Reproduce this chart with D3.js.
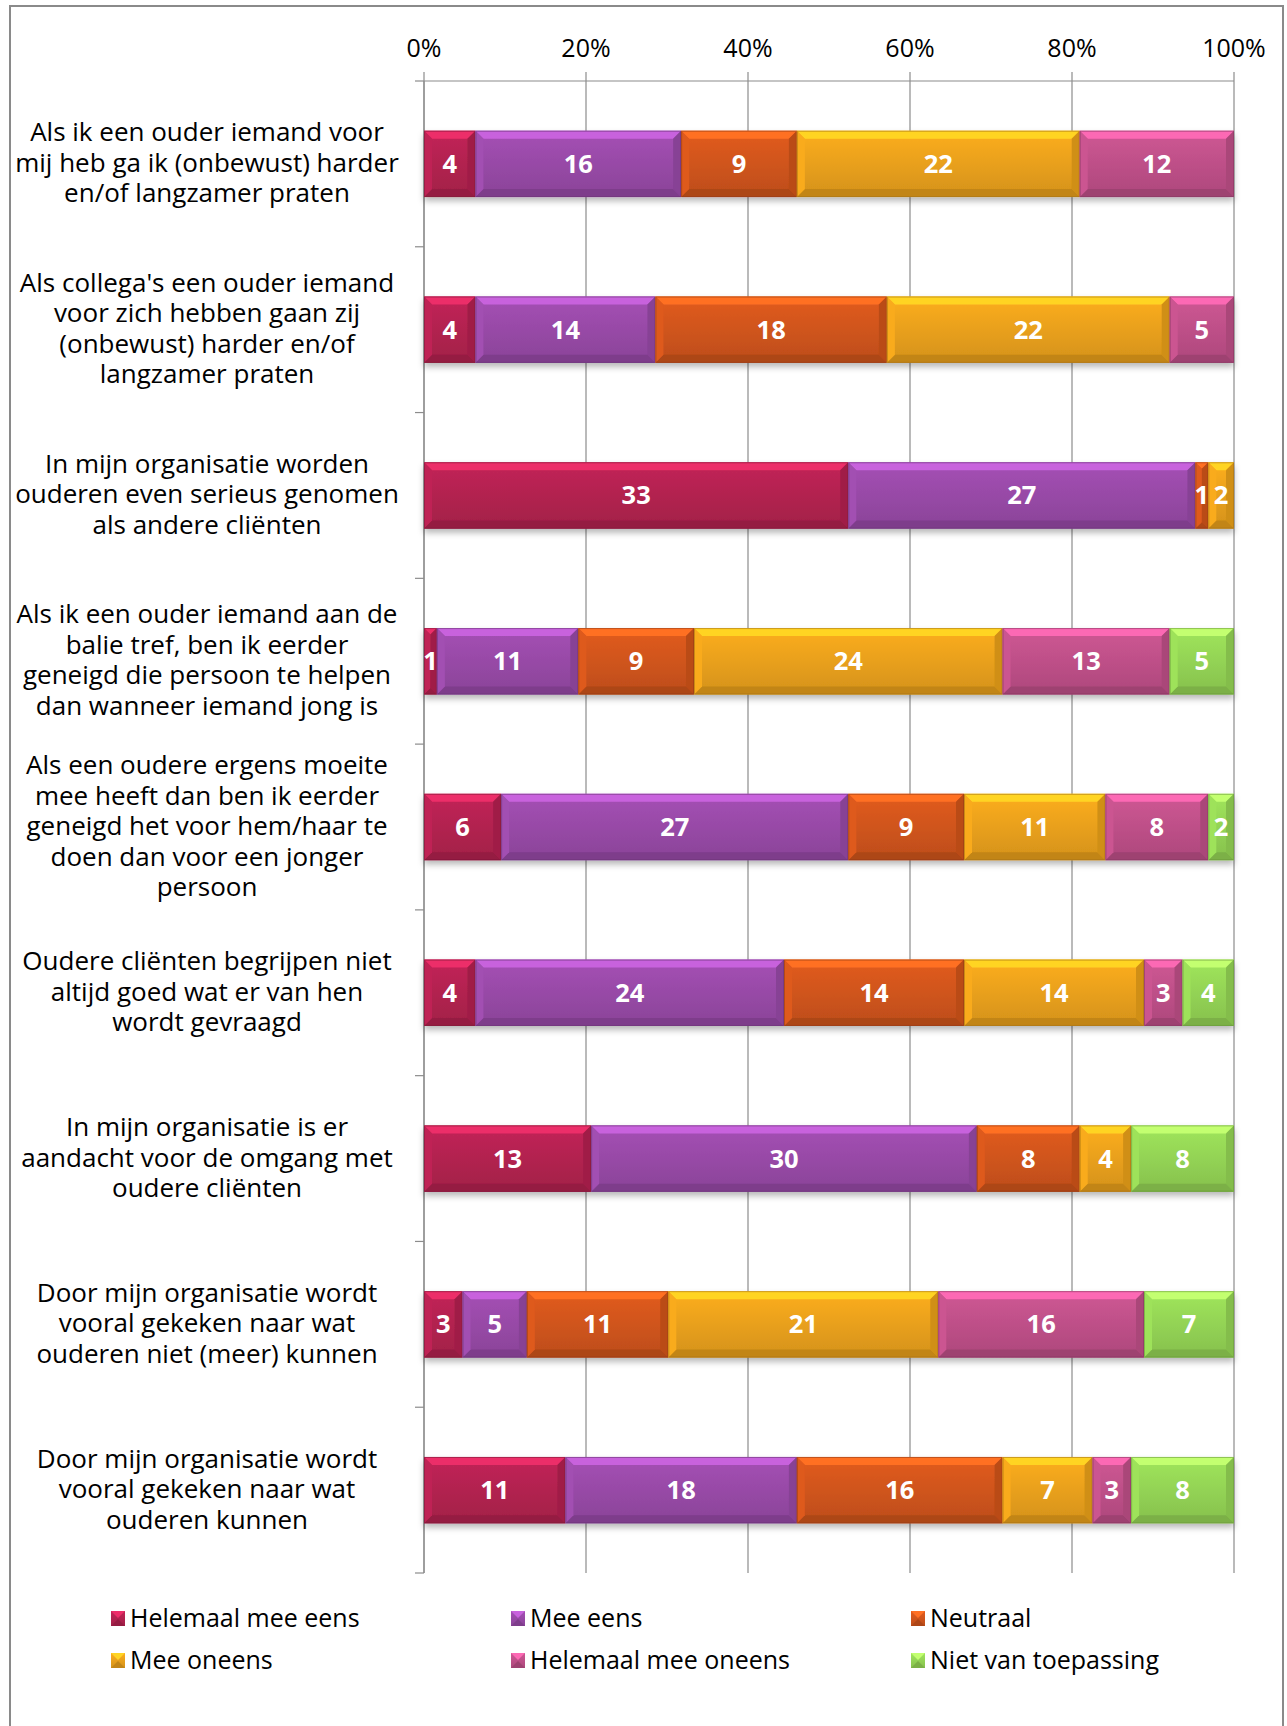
<!DOCTYPE html>
<html>
<head>
<meta charset="utf-8">
<script src="https://cdn.jsdelivr.net/npm/d3@7"></script>
<style>
  html, body { margin: 0; padding: 0; background: #fff; }
  svg text { font-family: "Open Sans", "DejaVu Sans", sans-serif; }
</style>
</head>
<body>
<div id="chart"></div>
<script>
// statements (each one a list of label lines)
var categories = [
  ["Als ik een ouder iemand voor", "mij heb ga ik (onbewust) harder", "en/of langzamer praten"],
  ["Als collega's een ouder iemand", "voor zich hebben gaan zij", "(onbewust) harder en/of", "langzamer praten"],
  ["In mijn organisatie worden", "ouderen even serieus genomen", "als andere cliënten"],
  ["Als ik een ouder iemand aan de", "balie tref, ben ik eerder", "geneigd die persoon te helpen", "dan wanneer iemand jong is"],
  ["Als een oudere ergens moeite", "mee heeft dan ben ik eerder", "geneigd het voor hem/haar te", "doen dan voor een jonger", "persoon"],
  ["Oudere cliënten begrijpen niet", "altijd goed wat er van hen", "wordt gevraagd"],
  ["In mijn organisatie is er", "aandacht voor de omgang met", "oudere cliënten"],
  ["Door mijn organisatie wordt", "vooral gekeken naar wat", "ouderen niet (meer) kunnen"],
  ["Door mijn organisatie wordt", "vooral gekeken naar wat", "ouderen kunnen"]
];

var seriesNames = ["Helemaal mee eens", "Mee eens", "Neutraal", "Mee oneens", "Helemaal mee oneens", "Niet van toepassing"];

var helemaalMeeEens   = [4, 4, 33, 1, 6, 4, 13, 3, 11];
var meeEens           = [16, 14, 27, 11, 27, 24, 30, 5, 18];
var neutraal          = [9, 18, 1, 9, 9, 14, 8, 11, 16];
var meeOneens         = [22, 22, 2, 24, 11, 14, 4, 21, 7];
var helemaalMeeOneens = [12, 5, 0, 13, 8, 3, 0, 16, 3];
var nietVanToepassing = [0, 0, 0, 5, 2, 4, 8, 7, 8];

var tickValues = [0, 0.2, 0.4, 0.6, 0.8, 1];

var colors = ["#b82352", "#9c4cac", "#d6571c", "#f0a51c", "#c4528c", "#98da57"];

var series = [helemaalMeeEens, meeEens, neutraal, meeOneens, helemaalMeeOneens, nietVanToepassing];

var width = 1287, height = 1726;

var svg = d3.select("#chart").append("svg")
    .attr("width", width)
    .attr("height", height);

var defs = svg.append("defs");

// soft shadow under the bars
var shadow = defs.append("filter").attr("id", "shadow")
    .attr("x", "-5%").attr("y", "-20%").attr("width", "110%").attr("height", "150%");
shadow.append("feDropShadow")
    .attr("dx", 0).attr("dy", 4).attr("stdDeviation", 3)
    .attr("flood-color", "#000").attr("flood-opacity", 0.28);

colors.forEach(function(c, i) {
  var g = defs.append("linearGradient").attr("id", "grad" + i)
      .attr("x1", 0).attr("y1", 0).attr("x2", 0).attr("y2", 1);
  g.append("stop").attr("offset", "0%").attr("stop-color", d3.color(c).brighter(0.15));
  g.append("stop").attr("offset", "100%").attr("stop-color", d3.color(c).darker(0.35));
});

// outer frame
svg.append("rect")
    .attr("x", 10).attr("y", 6)
    .attr("width", 1273).attr("height", 1740)
    .attr("fill", "none")
    .attr("stroke", "#8a8a8a")
    .attr("stroke-width", 2);

var x = d3.scaleLinear().domain([0, 1]).range([424, 1234]);

var y = d3.scaleBand()
    .domain(d3.range(categories.length))
    .range([81, 1573])
    .paddingInner(0.6)
    .paddingOuter(0.3);

var step = y.step();
var plotTop = 81, plotBottom = 1573;

// vertical gridlines (also ticks above the axis)
svg.append("g").selectAll("line")
    .data(tickValues)
    .join("line")
    .attr("x1", function(d) { return x(d); })
    .attr("x2", function(d) { return x(d); })
    .attr("y1", plotTop - 9)
    .attr("y2", plotBottom)
    .attr("stroke", "#8c8c8c")
    .attr("stroke-width", 1.2);

// top axis line
svg.append("line")
    .attr("x1", x(0)).attr("x2", x(1))
    .attr("y1", plotTop).attr("y2", plotTop)
    .attr("stroke", "#8c8c8c").attr("stroke-width", 1.2);

// tick labels
svg.append("g").selectAll("text")
    .data(tickValues)
    .join("text")
    .attr("x", function(d) { return x(d); })
    .attr("y", 57)
    .attr("text-anchor", "middle")
    .attr("font-size", 25)
    .attr("fill", "#000")
    .text(d3.format(".0%"));

// category axis + ticks at band edges
svg.append("line")
    .attr("x1", x(0)).attr("x2", x(0))
    .attr("y1", plotTop).attr("y2", plotBottom)
    .attr("stroke", "#8c8c8c").attr("stroke-width", 1.2);

svg.append("g").selectAll("line")
    .data(d3.range(categories.length + 1))
    .join("line")
    .attr("x1", x(0) - 9).attr("x2", x(0))
    .attr("y1", function(i) { return plotTop + i * step; })
    .attr("y2", function(i) { return plotTop + i * step; })
    .attr("stroke", "#8c8c8c").attr("stroke-width", 1.2);

// category labels
var lineH = 30.5;
svg.append("g").selectAll("text")
    .data(categories)
    .join("text")
    .attr("text-anchor", "middle")
    .attr("font-size", 26)
    .attr("fill", "#000")
    .each(function(lines, i) {
      var cy = y(i) + y.bandwidth() / 2;
      var first = cy - (lines.length - 1) * lineH / 2 + 8;
      d3.select(this).selectAll("tspan")
        .data(lines)
        .join("tspan")
        .attr("x", 207)
        .attr("y", function(d, j) { return first + j * lineH; })
        .text(function(d) { return d; });
    });

// stack the segments
var rows = categories.map(function(c, i) {
  var total = d3.sum(series, function(s) { return s[i]; });
  var acc = 0;
  return series.map(function(s, k) {
    var seg = { row: i, k: k, value: s[i], x0: acc / total, x1: (acc + s[i]) / total };
    acc += s[i];
    return seg;
  }).filter(function(d) { return d.value > 0; });
});

var bh = y.bandwidth();
var bev = 8;

var barG = svg.append("g");

rows.forEach(function(segs, i) {
  var gRow = barG.append("g").attr("filter", "url(#shadow)");
  segs.forEach(function(d) {
    var x0 = x(d.x0), x1 = x(d.x1), y0 = y(i), y1 = y(i) + bh;
    var b = Math.min(bev, (x1 - x0) / 2);
    var c = d3.color(colors[d.k]);
    var g = gRow.append("g");
    g.append("rect")
      .attr("x", x0).attr("y", y0)
      .attr("width", x1 - x0).attr("height", bh)
      .attr("fill", "url(#grad" + d.k + ")");
    // bevel faces
    g.append("polygon")
      .attr("points", [[x0, y0], [x1, y0], [x1 - b, y0 + b], [x0 + b, y0 + b]].join(" "))
      .attr("fill", c.brighter(0.7));
    g.append("polygon")
      .attr("points", [[x0, y1], [x1, y1], [x1 - b, y1 - b], [x0 + b, y1 - b]].join(" "))
      .attr("fill", c.darker(0.6));
    g.append("polygon")
      .attr("points", [[x0, y0], [x0 + b, y0 + b], [x0 + b, y1 - b], [x0, y1]].join(" "))
      .attr("fill", c.brighter(0.1));
    g.append("polygon")
      .attr("points", [[x1, y0], [x1 - b, y0 + b], [x1 - b, y1 - b], [x1, y1]].join(" "))
      .attr("fill", c.darker(0.4));
    g.append("rect")
      .attr("x", x0 + 0.5).attr("y", y0 + 0.5)
      .attr("width", x1 - x0 - 1).attr("height", bh - 1)
      .attr("fill", "none")
      .attr("stroke", c.darker(1))
      .attr("stroke-opacity", 0.6)
      .attr("stroke-width", 1);
  });
});

// value labels
barG.append("g").selectAll("text")
    .data(rows.flat())
    .join("text")
    .attr("x", function(d) { return (x(d.x0) + x(d.x1)) / 2; })
    .attr("y", function(d) { return y(d.row) + bh / 2 + 9; })
    .attr("text-anchor", "middle")
    .attr("font-size", 25.5)
    .attr("font-weight", "bold")
    .attr("fill", "#fff")
    .text(function(d) { return d.value; });

// legend
var legend = svg.append("g");
seriesNames.forEach(function(name, k) {
  var col = k % 3, row = Math.floor(k / 3);
  var lx = 111 + col * 400, ly = 1627 + row * 42;
  var c = d3.color(colors[k]);
  var m = legend.append("g");
  m.append("rect")
    .attr("x", lx).attr("y", ly - 16)
    .attr("width", 14).attr("height", 15)
    .attr("fill", "url(#grad" + k + ")");
  m.append("polygon")
    .attr("points", [[lx, ly - 16], [lx + 14, ly - 16], [lx + 7, ly - 9]].join(" "))
    .attr("fill", c.brighter(0.7));
  m.append("polygon")
    .attr("points", [[lx, ly - 1], [lx + 14, ly - 1], [lx + 7, ly - 8]].join(" "))
    .attr("fill", c.darker(0.6));
  legend.append("text")
    .attr("x", lx + 19).attr("y", ly)
    .attr("font-size", 25)
    .attr("fill", "#000")
    .text(name);
});
</script>
</body>
</html>
